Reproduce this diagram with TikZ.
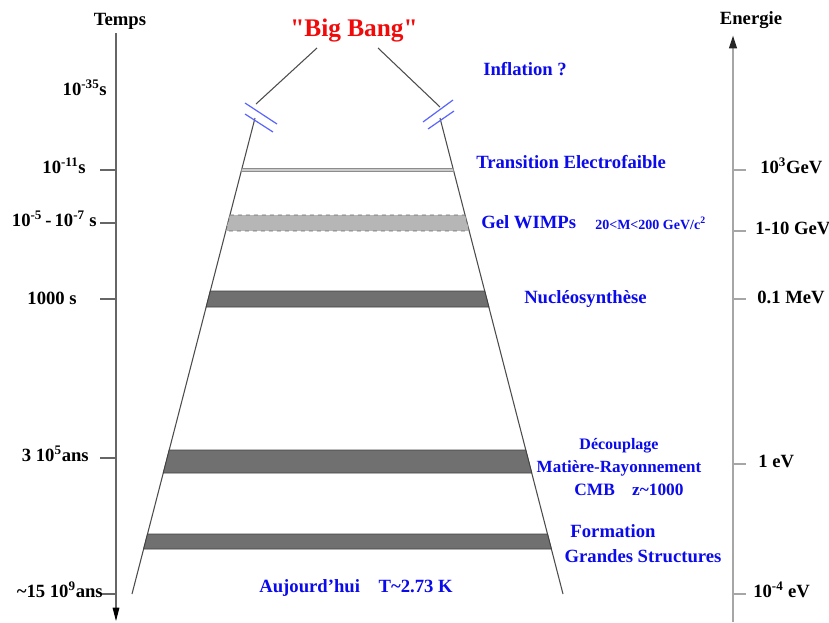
\documentclass[tikz,border=0pt]{standalone}
\usepackage{fontspec}
\setmainfont{Liberation Serif}
\newfontfamily\bbfont[Ligatures=TeXOff]{Liberation Serif}
\usetikzlibrary{calc,arrows.meta}
\definecolor{lblue}{RGB}{10,10,235}
\definecolor{bbred}{RGB}{240,10,10}
\definecolor{brk}{RGB}{90,100,255}
\definecolor{darkband}{RGB}{112,112,112}
\definecolor{lightband}{RGB}{182,182,182}
\newcommand\drawband[3]{%
  \draw[#3] ($(LT)!{(#1-118)/476}!(LB)$) -- ($(RT)!{(#1-118)/476}!(RB)$)
    -- ($(RT)!{(#2-118)/476}!(RB)$) -- ($(LT)!{(#2-118)/476}!(LB)$) -- cycle;}
\begin{document}
\begin{tikzpicture}[x=0.75pt,y=-0.75pt,
  blk/.style={font=\fontsize{14}{16}\selectfont\bfseries, text=black, inner sep=0pt},
  bl/.style={font=\fontsize{14}{16}\selectfont\bfseries, text=lblue, inner sep=0pt},
  blsmall/.style={font=\fontsize{10.5}{12}\selectfont\bfseries, text=lblue, inner sep=0pt},
  axisL/.style={draw=black!60, line width=0.8pt},
  axisR/.style={draw=black!35, line width=2pt},
  trap/.style={draw=black!70, line width=0.8pt},
  brkmark/.style={draw=brk, line width=0.9pt},
  darkb/.style={fill=darkband, draw=black!75, line width=0.6pt},
  lightb/.style={fill=lightband, draw=black!60, dashed, line width=0.6pt},
  ewb/.style={fill=black!20, draw=black!45, line width=0.5pt}]
\useasboundingbox (0,0) rectangle (829,622);

% axes
\draw[axisL, -{Triangle[width=5pt,length=10pt,color=black]}] (116,33) -- (116,621);
\draw[axisR, -{Triangle[width=5.5pt,length=10pt,color=black!85]}] (733,622) -- (733,35);
\foreach \yy in {170,223,299,458,594} \draw[axisL] (100,\yy) -- (116,\yy);
\foreach \yy in {170,231,299,464,594} \draw[axisR, line width=1.2pt] (733,\yy) -- (746,\yy);

% trapezoid
\coordinate (BB1) at (317,48);
\coordinate (LU) at (256,104);
\coordinate (LT) at (255,118);
\coordinate (LB) at (132,594);
\coordinate (BB2) at (378,48);
\coordinate (RU) at (440,107);
\coordinate (RT) at (440,118);
\coordinate (RB) at (563,594);
\draw[trap] (BB1) -- (LU);
\draw[trap] (BB2) -- (RU);
\draw[trap] (LT) -- (LB);
\draw[trap] (RT) -- (RB);
\draw[brkmark] (245,103) -- (277,124);
\draw[brkmark] (245,114) -- (273,132);
\draw[brkmark] (423,122) -- (453,100);
\draw[brkmark] (428,129) -- (454,111);

% bands
\drawband{168.5}{171.5}{ewb}
\drawband{215}{231}{lightb}
\drawband{291}{307}{darkb}
\drawband{450}{473}{darkb}
\drawband{534}{549}{darkb}

% titles
\node[font=\bbfont\fontsize{19}{21}\selectfont\bfseries, text=bbred, inner sep=0pt] (bb) at (354,31) {"Big Bang"};
\node[blk] (temps) at (120,21) {Temps};
\node[blk] (energie) at (751,20) {Energie};

% time labels
\node[blk, anchor=mid east] (t35) at (107,92) {10\textsuperscript{-35}s};
\node[blk, anchor=mid east] (t11) at (86,170) {10\textsuperscript{-11}s};
\node[blk, anchor=mid east] (t5) at (97,223) {10\textsuperscript{-5}\,-\,10\textsuperscript{-7} s};
\node[blk, anchor=mid east] (t1000) at (77,301) {1000 s};
\node[blk, anchor=mid east] (t3) at (89,458) {3 10\textsuperscript{5}ans};
\node[blk, anchor=mid east] (t15) at (103,594) {\textasciitilde15 10\textsuperscript{9}ans};

% energy labels
\node[blk, anchor=mid west] (e3) at (760,170) {10\textsuperscript{3}GeV};
\node[blk, anchor=mid west] (e1) at (755,231) {1-10 GeV};
\node[blk, anchor=mid west] (e01) at (757,300) {0.1 MeV};
\node[blk, anchor=mid west] (e1ev) at (758,464) {1 eV};
\node[blk, anchor=mid west] (e4) at (753,594) {10\textsuperscript{-4} eV};

% event labels
\node[bl, anchor=mid west] (infl) at (483,72) {Inflation ?};
\node[bl, anchor=mid west] (ew) at (476,165) {Transition Electrofaible};
\node[bl, anchor=mid west] (gel) at (481,225) {Gel WIMPs};
\node[blsmall, anchor=mid west] (mass) at (595,226) {20<M<200 GeV/c\textsuperscript{2}};
\node[bl, anchor=mid west] (nuc) at (524,300) {Nucléosynthèse};
\node[bl, font=\fontsize{12}{14}\selectfont\bfseries] (dec) at (619,446) {Découplage};
\node[bl, font=\fontsize{12.8}{14}\selectfont\bfseries] (mat) at (619,468) {Matière-Rayonnement};
\node[bl, font=\fontsize{13}{15}\selectfont\bfseries] (cmb) at (629,490) {CMB\quad z\textasciitilde1000};
\node[bl] (form) at (613,531) {Formation};
\node[bl] (gs) at (643,556) {Grandes Structures};
\node[bl] (auj) at (356,588) {Aujourd'hui\quad T\textasciitilde2.73 K};
\end{tikzpicture}
\end{document}
